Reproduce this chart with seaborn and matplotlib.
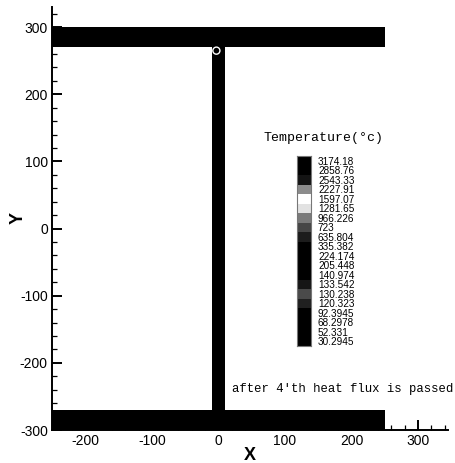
import numpy as np
import matplotlib
matplotlib.use("Agg")
import matplotlib.pyplot as plt
from matplotlib.colors import ListedColormap, BoundaryNorm
from matplotlib.ticker import MultipleLocator
import seaborn as sns

# Temperature legend levels (deg C), listed top to bottom as in the legend
levels = [3174.18, 2858.76, 2543.33, 2227.91, 1597.07, 1281.65, 966.226, 723,
          635.804, 335.382, 224.174, 205.448, 140.974, 133.542, 130.238,
          120.323, 92.3945, 68.2978, 52.331, 30.2945]
level_labels = ["3174.18", "2858.76", "2543.33", "2227.91", "1597.07", "1281.65",
                "966.226", "723", "635.804", "335.382", "224.174", "205.448",
                "140.974", "133.542", "130.238", "120.323", "92.3945", "68.2978",
                "52.331", "30.2945"]
level_colors = ["#000000", "#000000", "#141414", "#8c8c8c", "#ffffff", "#e2e2e2",
                "#7a7a7a", "#464646", "#1c1c1c", "#000000", "#000000", "#000000",
                "#000000", "#161616", "#4a4a4a", "#202020", "#000000", "#000000",
                "#000000", "#000000"]

# I-beam cross-section geometry (mm)
flange_x = [-250, 250]
top_flange_y = [270, 300]
bottom_flange_y = [-300, -270]
web_x = [-10, 10]
web_y = [-270, 270]

# Temperatures of the section parts after the 4th heat flux (deg C)
top_flange_temp = 45.0
web_temp = 60.0
bottom_flange_temp = 40.0

# Small hot-spot contour at the web / top flange junction
hot_spot_x = [-3]
hot_spot_y = [265]

sns.set_style("ticks")
plt.rcParams["font.family"] = ["Liberation Sans", "DejaVu Sans"]
plt.rcParams["axes.unicode_minus"] = False
plt.rcParams["text.color"] = "black"
plt.rcParams["axes.labelcolor"] = "black"
plt.rcParams["xtick.color"] = "black"
plt.rcParams["ytick.color"] = "black"

# Colour mapping shared by the field and the legend strip
asc_levels = levels[::-1]
cmap = ListedColormap(level_colors[::-1])
cmap.set_under("#000000")
norm = BoundaryNorm(asc_levels + [asc_levels[-1] + 320.0], ncolors=len(asc_levels))

fig = plt.figure(figsize=(4.55, 4.63), dpi=100)
W, H = 455, 463
ax = fig.add_axes([52 / W, 1 - 430 / H, 396 / W, 423 / H])

# Temperature field sampled on a 1 mm grid, masked outside the section
xe = np.arange(flange_x[0], flange_x[1] + 1, 1.0)
ye = np.arange(bottom_flange_y[0], top_flange_y[1] + 1, 1.0)
xc = 0.5 * (xe[:-1] + xe[1:])
yc = 0.5 * (ye[:-1] + ye[1:])
XX, YY = np.meshgrid(xc, yc)
T = np.full(XX.shape, np.nan)
T[(YY >= top_flange_y[0]) & (YY <= top_flange_y[1])] = top_flange_temp
T[(YY >= bottom_flange_y[0]) & (YY <= bottom_flange_y[1])] = bottom_flange_temp
T[(XX >= web_x[0]) & (XX <= web_x[1]) & (YY > web_y[0]) & (YY < web_y[1])] = web_temp
ax.pcolormesh(xe, ye, np.ma.masked_invalid(T), cmap=cmap, norm=norm,
              shading="flat", zorder=3)
ax.scatter(hot_spot_x, hot_spot_y, s=26, facecolors="none", edgecolors="white",
           linewidths=1.0, zorder=4)

ax.set_xlim(-250, 345)
ax.set_ylim(-300, 330)
ax.xaxis.set_major_locator(MultipleLocator(100))
ax.xaxis.set_minor_locator(MultipleLocator(20))
ax.yaxis.set_major_locator(MultipleLocator(100))
ax.yaxis.set_minor_locator(MultipleLocator(20))
ax.set_xticks([-200, -100, 0, 100, 200, 300])
ax.tick_params(which="major", direction="in", length=7, width=1.4,
               labelsize=10, pad=3)
ax.tick_params(which="minor", direction="in", length=3.5, width=0.9)
sns.despine(ax=ax)
for s in ("left", "bottom"):
    ax.spines[s].set_linewidth(1.4)
    ax.spines[s].set_color("black")
ax.set_xlabel("X", fontsize=13, fontweight="bold", va="center")
ax.set_ylabel("Y", fontsize=13, fontweight="bold", va="center")
ax.xaxis.set_label_coords(0.5, -25 / 423)
ax.yaxis.set_label_coords(-34 / 396, (430 - 218) / 423)

# Legend strip
cax = fig.add_axes([297 / W, 1 - 346 / H, 14 / W, 190 / H])
sns.heatmap(np.array(levels)[:, None], ax=cax, cmap=cmap, norm=norm, cbar=False,
            xticklabels=False, yticklabels=level_labels, linewidths=0)
cax.yaxis.tick_right()
cax.tick_params(axis="y", length=0, labelsize=7.2, pad=5, rotation=0)
for s in cax.spines.values():
    s.set_visible(True)
    s.set_color("#777777")
    s.set_linewidth(0.8)

fig.text(323 / W, 1 - 138 / H, "Temperature(\u00b0c)", family="Liberation Mono",
         fontsize=9.5, ha="center", va="center")
fig.text(232 / W, 1 - 389 / H, "after 4'th heat flux is passed",
         family="Liberation Mono", fontsize=8.8, ha="left", va="center")

fig.savefig("out.png", dpi=100)
